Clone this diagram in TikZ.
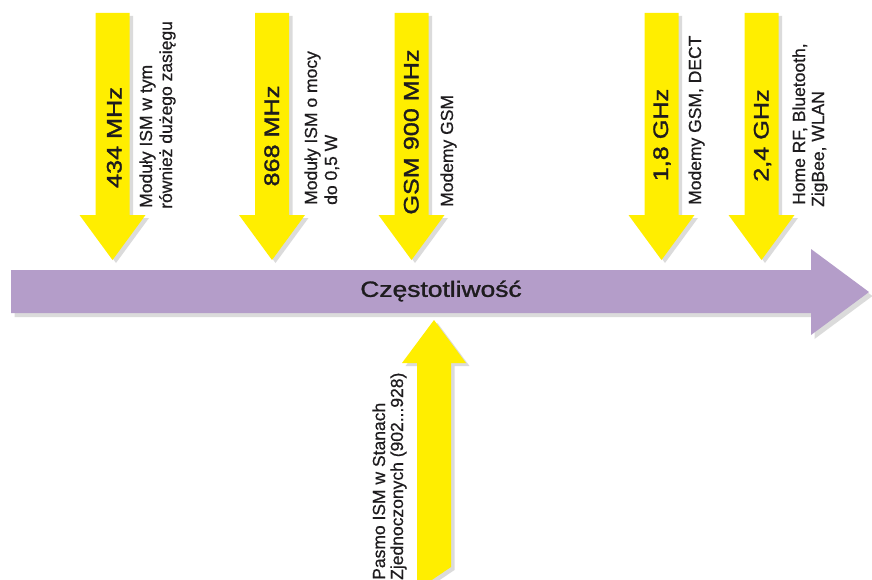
\documentclass[tikz,border=0pt]{standalone}
\usepackage{fontspec}
\usepackage{graphicx}
\setmainfont{Liberation Sans}
\newfontfamily\medfont[FakeBold=1.3]{Liberation Sans}
\newfontfamily\lblfont[FakeBold=0.6]{Liberation Sans}
\usetikzlibrary{shadows}
\definecolor{ylw}{RGB}{255,238,0}
\definecolor{lil}{RGB}{180,157,201}
\definecolor{ink}{RGB}{30,28,30}
\begin{document}
\begin{tikzpicture}[x=1pt,y=-1pt,
  yarrow/.style={fill=ylw, drop shadow={opacity=0.28, shadow xshift=3.5pt, shadow yshift=-3pt}},
  parrow/.style={fill=lil, drop shadow={opacity=0.28, shadow xshift=3.5pt, shadow yshift=-4pt}},
  bigtxt/.style={rotate=90, anchor=base, inner sep=0pt, text=ink, font=\medfont\fontsize{21}{25}\selectfont},
  smalltxt/.style={rotate=90, anchor=base west, inner sep=0pt, text=ink, font=\lblfont\fontsize{17.5}{20}\selectfont},
  axistxt/.style={anchor=center, inner sep=0pt, text=ink, font=\medfont\fontsize{22}{26}\selectfont}]
\useasboundingbox (0,0) rectangle (872,580);
\clip (0,0) rectangle (872,580);
\fill[white] (0,0) rectangle (872,580);
% downward yellow arrows
\foreach \c in {112.5,272,411.5,661.5,761.5}{
  \fill[yarrow] ({\c-17},13) -- ({\c+17},13) -- ({\c+17},215) -- ({\c+33},215)
     -- (\c,260) -- ({\c-33},215) -- ({\c-17},215) -- cycle;
}
% frequency axis
\fill[parrow] (11,270) -- (811,270) -- (811,249) -- (869,292) -- (811,335)
   -- (811,313) -- (11,313) -- cycle;
% upward yellow arrow
\fill[yarrow] (417,590) -- (417,363) -- (402,363) -- (434,320) -- (466,363)
   -- (451,363) -- (451,567) -- cycle;
% big labels
\node[bigtxt] (f434) at (121.5,137.5) {\scalebox{1.2}[1]{434 MHz}};
\node[bigtxt] (f868) at (279,136) {\scalebox{1.2}[1]{868 MHz}};
\node[bigtxt] (f900) at (418.5,132) {\scalebox{1.2}[1]{GSM 900 MHz}};
\node[bigtxt] (f18) at (668,135) {\scalebox{1.2}[1]{1,8 GHz}};
\node[bigtxt] (f24) at (768.5,135.5) {\scalebox{1.2}[1]{2,4 GHz}};
% small labels
\node[smalltxt] (d434a) at (152,208) {Moduły ISM w tym};
\node[smalltxt] (d434b) at (172,209) {również dużego zasięgu};
\node[smalltxt] (d868a) at (317,205) {Moduły ISM o mocy};
\node[smalltxt] (d868b) at (337,205) {do 0,5 W};
\node[smalltxt] (d900) at (453,207) {Modemy GSM};
\node[smalltxt] (d18) at (701,205) {Modemy GSM, DECT};
\node[smalltxt] (d24a) at (805,205) {Home RF, Bluetooth,};
\node[smalltxt] (d24b) at (824,207) {ZigBee, WLAN};
\node[smalltxt] (dusa) at (385,580) {Pasmo ISM w Stanach};
\node[smalltxt] (dusb) at (403,580) {Zjednoczonych (902...928)};
% axis label
\node[axistxt] (axis) at (441,291) {\scalebox{1.2}[1]{Częstotliwość}};
\end{tikzpicture}
\end{document}
